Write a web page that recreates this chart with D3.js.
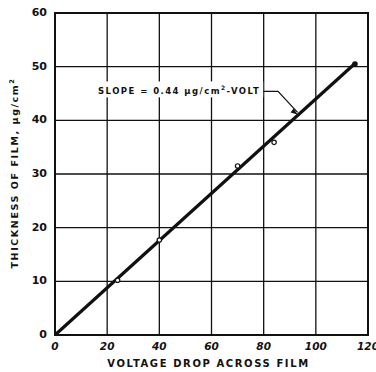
<!DOCTYPE html>
<html>
<head>
<meta charset="utf-8">
<script src="https://cdn.jsdelivr.net/npm/d3@7"></script>
<style>
  body { margin: 0; background: #fff; }
  text { font-family: "DejaVu Sans", sans-serif; font-weight: bold; fill: #111; }
</style>
</head>
<body>
<div id="chart"></div>
<script>
// data
var voltage = [24, 40, 70, 84];
var thickness = [10.2, 17.7, 31.5, 35.9];
var endPoint = [115, 50.5];
var slope = 0.44;
var xTicks = [0, 20, 40, 60, 80, 100, 120];
var yTicks = [0, 10, 20, 30, 40, 50, 60];

var margin = {top: 13, right: 8, bottom: 37, left: 55},
    width = 376 - margin.left - margin.right,
    height = 372 - margin.top - margin.bottom;

var svg = d3.select('#chart').append('svg')
  .attr('width', 376)
  .attr('height', 372);

var g = svg.append('g')
  .attr('transform', 'translate(' + margin.left + ',' + margin.top + ')');

var x = d3.scaleLinear().domain([0, 120]).range([0, width]);
var y = d3.scaleLinear().domain([0, 60]).range([height, 0]);

// grid
g.selectAll('.vgrid').data(xTicks).enter().append('line')
  .attr('x1', d => x(d)).attr('x2', d => x(d))
  .attr('y1', 0).attr('y2', height)
  .attr('stroke', '#111').attr('stroke-width', 1.3);
g.selectAll('.hgrid').data(yTicks).enter().append('line')
  .attr('y1', d => y(d)).attr('y2', d => y(d))
  .attr('x1', 0).attr('x2', width)
  .attr('stroke', '#111').attr('stroke-width', 1.3);

// frame
g.append('rect')
  .attr('width', width).attr('height', height)
  .attr('fill', 'none').attr('stroke', '#111').attr('stroke-width', 2);

// annotation text with white backing (breaks the grid)
var note = g.append('text')
  .attr('x', x(16.5)).attr('y', y(45.5))
  .attr('font-size', 8.5)
  .attr('letter-spacing', 1.45)
  .attr('dominant-baseline', 'middle');
note.append('tspan').text('SLOPE = 0.44 \u03bcg/cm');
note.append('tspan').attr('dy', -3).attr('font-size', 6).text('2');
note.append('tspan').attr('dy', 3).text('-VOLT');
var bb = note.node().getBBox();
g.insert('rect', 'text')
  .attr('x', bb.x - 3).attr('y', bb.y - 2)
  .attr('width', bb.width + 6).attr('height', bb.height + 4)
  .attr('fill', '#fff');

// leader arrow
var ax = 93, ay = slope * ax;
g.append('path')
  .attr('d', 'M' + (bb.x + bb.width + 3) + ',' + y(45.4) +
    ' L' + x(85.5) + ',' + y(45.4) +
    ' L' + x(ax) + ',' + (y(ay) - 3))
  .attr('fill', 'none').attr('stroke', '#111').attr('stroke-width', 1.2);
g.append('path')
  .attr('d', 'M' + x(ax) + ',' + (y(ay) - 1) + ' l-7,-2 l3,-4 z')
  .attr('fill', '#111');

// fitted line
g.append('line')
  .attr('x1', x(0)).attr('y1', y(0))
  .attr('x2', x(endPoint[0])).attr('y2', y(endPoint[0] * slope))
  .attr('stroke', '#111').attr('stroke-width', 3.2);

// points
g.selectAll('.pt').data(voltage).enter().append('circle')
  .attr('cx', (d) => x(d))
  .attr('cy', (d, i) => y(thickness[i]))
  .attr('r', 2.2)
  .attr('fill', '#fff').attr('stroke', '#111').attr('stroke-width', 1.2);
g.append('circle')
  .attr('cx', x(endPoint[0])).attr('cy', y(endPoint[1]))
  .attr('r', 2.8).attr('fill', '#111');

// tick labels
g.selectAll('.ylab').data(yTicks).enter().append('text')
  .attr('x', -8).attr('y', d => y(d))
  .attr('text-anchor', 'end')
  .attr('dominant-baseline', 'middle')
  .attr('font-size', 11)
  .text(d => d);
g.selectAll('.xlab').data(xTicks).enter().append('text')
  .attr('x', d => x(d)).attr('y', height + 15)
  .attr('text-anchor', 'middle')
  .attr('font-size', 10.5)
  .attr('font-style', 'italic')
  .text(d => d);

// axis titles
g.append('text')
  .attr('x', width / 2 - 3).attr('y', height + 32)
  .attr('text-anchor', 'middle')
  .attr('font-size', 10)
  .attr('letter-spacing', 1.6)
  .text('VOLTAGE DROP ACROSS FILM');

var yt = g.append('text')
  .attr('transform', 'translate(-37,' + (height / 2 - 1) + ') rotate(-90)')
  .attr('text-anchor', 'middle')
  .attr('font-size', 9.5)
  .attr('letter-spacing', 1.6);
yt.append('tspan').text('THICKNESS OF FILM,  \u03bcg/cm');
yt.append('tspan').attr('dy', -4).attr('font-size', 6.5).text('2');
</script>
</body>
</html>
